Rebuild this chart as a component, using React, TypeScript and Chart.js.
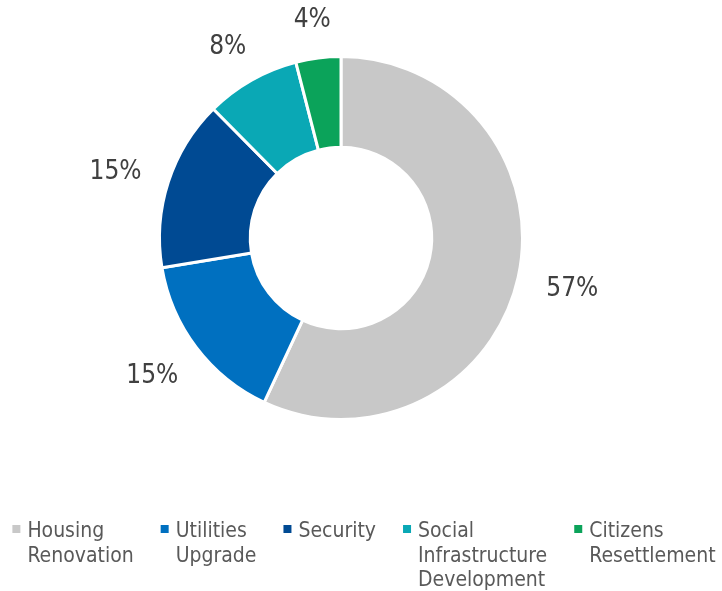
import React, { useEffect, useRef } from "react";
import { Chart, registerables } from "chart.js";

Chart.register(...registerables);

const categories = ["Housing Renovation", "Utilities Upgrade", "Security", "Social Infrastructure Development", "Citizens Resettlement"];
const legendLines = [["Housing", "Renovation"], ["Utilities", "Upgrade"], ["Security"], ["Social", "Infrastructure", "Development"], ["Citizens", "Resettlement"]];
const shares = [56.9, 15.4, 15.2, 8.4, 4.0];
const percentLabels = ["57%", "15%", "15%", "8%", "4%"];
const colors = ["#C8C8C8", "#0070C0", "#004A93", "#0AA8B5", "#0BA35A"];

const FONT = "'DejaVu Sans Condensed', 'DejaVu Sans', sans-serif";
const TEXT_COLOR = "#595959";
const LABEL_COLOR = "#404040";

const labelPlugin = {
  id: "pctLabels",
  afterDatasetsDraw(chart: any) {
    const ctx = chart.ctx;
    const meta = chart.getDatasetMeta(0);
    ctx.save();
    ctx.font = `26px ${FONT}`;
    ctx.fillStyle = LABEL_COLOR;
    ctx.textAlign = "center";
    ctx.textBaseline = "middle";
    meta.data.forEach((arc: any, i: number) => {
      const p = arc.getProps(["x", "y", "startAngle", "endAngle", "outerRadius"], true);
      const a = (p.startAngle + p.endAngle) / 2;
      const c = Math.cos(a), s = Math.sin(a);
      const t = percentLabels[i];
      const hw = ctx.measureText(t).width / 2;
      const hh = 12;
      const d = p.outerRadius + 29.5;
      ctx.fillText(t, p.x + c * d + hw * c, p.y + s * d + hh * s + 3);
    });
    ctx.restore();
  },
};

const legendPlugin = {
  id: "customLegend",
  afterDraw(chart: any) {
    const ctx = chart.ctx;
    ctx.save();
    ctx.font = `21px ${FONT}`;
    const box = 8, boxGap = 7, itemGap = 27, lineH = 24.5;
    const widths = legendLines.map((ls) => Math.max(...ls.map((l) => ctx.measureText(l).width)));
    const total = widths.reduce((s, w) => s + box + boxGap + w, 0) + itemGap * (widths.length - 1);
    let x = chart.width / 2 + 3 - total / 2;
    const base = 537;
    legendLines.forEach((ls, i) => {
      ctx.fillStyle = colors[i];
      ctx.fillRect(x, base - 12, box, box);
      ctx.fillStyle = TEXT_COLOR;
      ctx.textAlign = "left";
      ctx.textBaseline = "alphabetic";
      ls.forEach((l, j) => ctx.fillText(l, x + box + boxGap, base + j * lineH));
      x += box + boxGap + widths[i] + itemGap;
    });
    ctx.restore();
  },
};

export default function App() {
  const ref = useRef<HTMLCanvasElement>(null);
  useEffect(() => {
    if (!ref.current) return;
    const chart = new Chart(ref.current, {
      type: "doughnut",
      data: {
        labels: categories,
        datasets: [
          {
            data: shares,
            backgroundColor: colors,
            borderColor: "#FFFFFF",
            borderWidth: 3,
          },
        ],
      },
      options: {
        responsive: false,
        animation: false,
        cutout: "50%",
        layout: { padding: { left: 158, right: 198, top: 55, bottom: 170 } },
        plugins: { legend: { display: false }, tooltip: { enabled: false } },
      },
      plugins: [labelPlugin, legendPlugin],
    });
    return () => chart.destroy();
  }, []);
  return (
    <div style={{ position: "fixed", left: 0, top: 0, width: 722, height: 591, background: "#fff" }}>
      <canvas ref={ref} width={722} height={591} style={{ width: 722, height: 591, display: "block" }} />
    </div>
  );
}
